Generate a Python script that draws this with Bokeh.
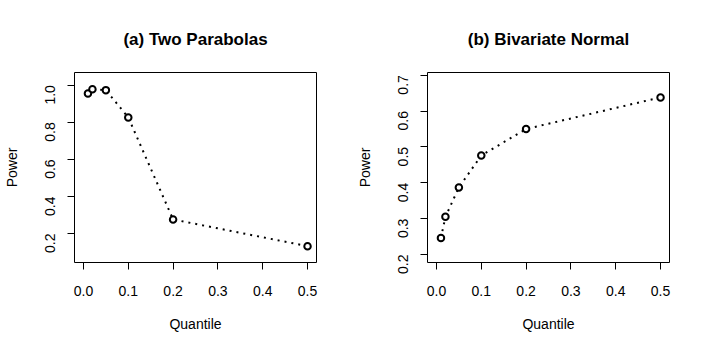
import math
from bokeh.plotting import figure
from bokeh.layouts import row
from bokeh.models import Range1d, FixedTicker, PrintfTickFormatter
from bokeh.embed import file_html
from bokeh.resources import INLINE

quantile = [0.01, 0.02, 0.05, 0.1, 0.2, 0.5]
power_a = [0.955, 0.978, 0.973, 0.826, 0.276, 0.132]
power_b = [0.246, 0.305, 0.387, 0.476, 0.550, 0.638]
x_ticks = [0.0, 0.1, 0.2, 0.3, 0.4, 0.5]
y_ticks_a = [0.2, 0.4, 0.6, 0.8, 1.0]
y_ticks_b = [0.2, 0.3, 0.4, 0.5, 0.6, 0.7]
titles = ["(a) Two Parabolas", "(b) Bivariate Normal"]

FONT = "Liberation Sans"


def panel(title, yvals, yticks, yrange):
    p = figure(width=353, height=353, output_backend="svg", toolbar_location=None,
               x_range=Range1d(-0.02, 0.52), y_range=Range1d(*yrange),
               min_border_left=72, min_border_right=37, min_border_top=72,
               min_border_bottom=91, title=title)
    p.title.text_font = FONT
    p.title.text_font_size = "17px"
    p.title.text_font_style = "bold"
    p.title.align = "center"
    p.title.text_color = "black"
    p.title.standoff = 48
    p.grid.visible = False
    p.outline_line_color = "black"
    p.outline_line_width = 1
    p.outline_line_alpha = 1
    for ax in (p.xaxis[0], p.yaxis[0]):
        ax.axis_line_color = None
        ax.major_tick_in = 0
        ax.major_tick_out = 7
        ax.minor_tick_line_color = None
        ax.major_tick_line_color = "black"
        ax.major_label_text_font = FONT
        ax.major_label_text_font_size = "14px"
        ax.major_label_text_color = "black"
        ax.axis_label_text_font = FONT
        ax.axis_label_text_font_size = "14px"
        ax.axis_label_text_font_style = "normal"
        ax.axis_label_text_color = "black"
        ax.formatter = PrintfTickFormatter(format="%.1f")
    p.xaxis.ticker = FixedTicker(ticks=x_ticks)
    p.yaxis.ticker = FixedTicker(ticks=yticks)
    p.xaxis.axis_label = "Quantile"
    p.yaxis.axis_label = "Power"
    p.xaxis.major_label_standoff = 16
    p.xaxis.axis_label_standoff = 17
    p.yaxis.major_label_orientation = math.pi / 2
    p.yaxis.major_label_standoff = 17
    p.yaxis.axis_label_standoff = 18
    p.line(quantile, yvals, line_color="black", line_width=2, line_dash="2 5")
    p.scatter(quantile, yvals, marker="circle", size=6.5, line_color="black",
              line_width=2, fill_color="white")
    return p


p1 = panel(titles[0], power_a, y_ticks_a, (0.044, 1.068))
p2 = panel(titles[1], power_b, y_ticks_b, (0.1777, 0.7075))
p = row(p1, p2)

open("out.html", "w").write(file_html(p, INLINE))
